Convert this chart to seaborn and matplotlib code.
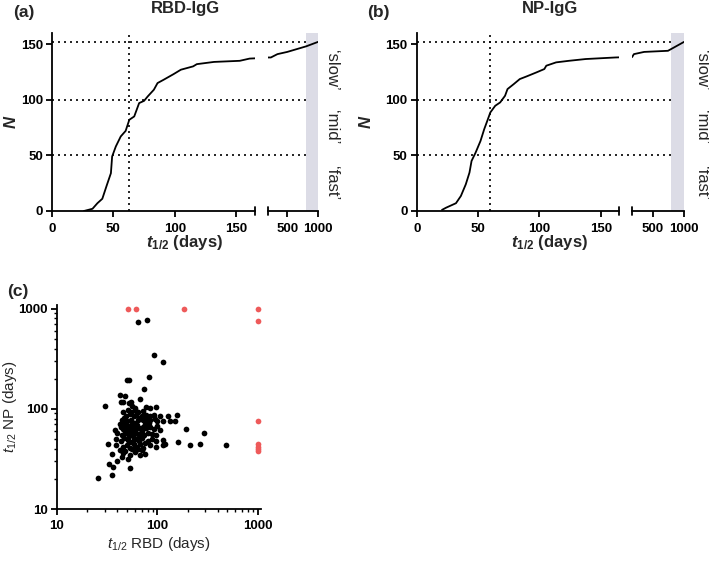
import matplotlib
matplotlib.use("Agg")
import matplotlib.pyplot as plt
import matplotlib.transforms as mtransforms
from matplotlib.ticker import LogLocator, NullFormatter
import pandas as pd
import seaborn as sns

# ---------------- data ----------------
rbd_t = [26, 33, 37, 41, 44.6, 48, 49, 52, 56, 60, 63, 67, 71, 75, 78, 83, 86,
         91, 99, 105, 115, 118, 132, 153, 161, 180, 230, 337, 498, 806, 1000]
rbd_n = [0, 2, 7, 11, 23, 34, 49, 58, 67, 72, 82, 85, 97, 99, 103, 109, 115,
         118, 123, 127, 130, 132, 134, 135, 137, 138, 138, 141, 143, 148, 152]

np_t = [20.6, 24, 32, 36, 40, 43, 44.7, 48, 52, 55, 57.5, 60, 64, 68, 72, 74, 79,
        84, 89.6, 97.6, 104, 105.6, 113.6, 124, 137.7, 161.8, 175, 202, 365, 745, 1000]
np_n = [1, 3, 7, 13.5, 24, 34.5, 45, 52.5, 63, 73.5, 81, 88.6, 94.6, 97.6, 103.6,
        109.6, 114, 118.6, 121, 124.6, 127.6, 130.6, 133.6, 135, 136.6, 138, 138.5,
        141, 143, 144, 152]

rbd_median = 63
np_median = 59.5
thresholds = [50, 100, 152]
band_labels = ["\u2018slow\u2019", "\u2018mid\u2019", "\u2018fast\u2019"]
band_centres = [126, 75, 25]

scatter_rbd = [63.5, 78.7, 91.7, 114, 49.8, 52.5, 82.8, 74, 42.4, 47.9, 67, 30, 43.4, 52.5,
               55.3, 76.9, 84, 98, 46, 55, 60, 55, 64, 72, 46, 51, 60,
               44, 49, 55, 62, 53, 58, 66, 70, 78, 85, 92, 84, 78, 72, 64, 106, 128, 157,
               133, 114, 149, 100, 95,
               42, 47, 52, 58, 63, 45, 50, 55, 60, 66, 72, 78, 85, 92, 100, 106, 195, 292,
               40, 44, 48, 53, 57, 62, 68, 74, 80, 88, 96, 52, 58, 65, 71, 38, 43, 49, 56,
               61, 75, 83,
               39, 43, 47, 51, 55, 60, 65, 70, 75, 84, 98, 114, 114, 98, 119, 161, 210, 269,
               488, 42.4, 39, 45, 50, 54, 58, 62, 67, 72, 32.4, 70, 60, 75, 67, 53, 48,
               35, 44, 51, 33, 36.4, 25.8, 35, 53, 40, 56, 46, 64, 80, 88, 57, 50, 47]
scatter_np = [741, 776, 344, 295, 195, 196, 207, 157, 137, 134, 125, 107, 116, 114,
              108, 104, 102, 105, 116, 117, 103, 94, 94, 96, 94, 98, 98,
              78, 84, 78, 87, 88, 85, 82, 84, 86, 85, 86, 78, 79, 77, 78, 84, 84, 86,
              76, 75, 76, 76, 80,
              70, 72, 67, 72, 69, 63, 62, 65, 62, 64, 66, 64, 66, 63, 68, 62, 63, 57,
              58, 55, 57, 59, 55, 57, 58, 55, 58, 56, 55, 53, 51, 52, 60, 61, 66, 68, 70,
              66, 70, 72,
              50, 48, 51, 49, 47, 50, 48, 51, 46, 44, 47.6, 49, 44, 42, 45, 47, 44, 45,
              44, 39, 43.6, 42, 44, 41, 45, 42, 45, 41, 44.7, 39, 37.5, 35.5, 35, 35, 38,
              35.5, 33, 31.4, 28, 26, 20.6, 21.9, 25.6, 30, 40, 36, 40, 48, 50, 61, 75, 81]
red_rbd = [51, 61.5, 184, 1000, 1000, 1000, 1000, 1000, 1000, 1000]
red_np = [1000, 1000, 1000, 1000, 753, 75, 45, 42, 40, 38]

# ---------------- style ----------------
sns.set_style("ticks")
plt.rcParams.update({
    "font.family": ["Liberation Sans", "DejaVu Sans"],
    "mathtext.fontset": "custom",
    "mathtext.rm": "Liberation Sans",
    "mathtext.it": "Liberation Sans:italic",
    "mathtext.bf": "Liberation Sans:bold",
    "mathtext.bfit": "Liberation Sans:bold:italic",
    "axes.linewidth": 1.3,
    "xtick.major.width": 1.3,
    "ytick.major.width": 1.3,
    "xtick.major.size": 4,
    "ytick.major.size": 4,
    "xtick.minor.width": 1.0,
    "ytick.minor.width": 1.0,
    "xtick.minor.size": 2.5,
    "ytick.minor.size": 2.5,
    "xtick.color": "black",
    "ytick.color": "black",
    "axes.edgecolor": "black",
})

W, H = 709, 578
fig = plt.figure(figsize=(W / 100, H / 100), dpi=100)


def ax_px(l, t, r, b):
    return fig.add_axes([l / W, 1 - b / H, (r - l) / W, (b - t) / H])


def ftext(x, y, s, **kw):
    fig.text(x / W, 1 - y / H, s, ha="center", va="center", **kw)


DOT = (0, (1.2, 2.4))


def curve_panel(l, r, t_vals, n_vals, median, text_x):
    seg1_r = l + 202.5
    seg2_l = seg1_r + 13
    a1 = ax_px(l, 33, seg1_r, 211)
    a2 = ax_px(seg2_l, 33, r, 211)
    df = pd.DataFrame({"t": t_vals, "N": n_vals})
    a2.axvspan(800, 1000, color="#dcdce6", lw=0, zorder=0)
    for ax in (a1, a2):
        sns.lineplot(data=df, x="t", y="N", ax=ax, color="black", lw=1.3,
                     estimator=None, sort=False, zorder=3)
        ax.set_ylim(0, 160)
        ax.set_xlabel("")
        ax.set_ylabel("")
        ax.patch.set_alpha(0)
    a1.set_xlim(0, 165)
    a2.set_xlim(175, 1000)
    span = (r - l) / (seg1_r - l)
    tr = mtransforms.blended_transform_factory(a1.transAxes, a1.transData)
    for y in thresholds:
        a1.plot([0, span], [y, y], transform=tr, color="black", lw=1.2, ls=DOT,
                clip_on=False, zorder=2)
    a1.axvline(median, color="black", lw=1.2, ls=DOT, zorder=2)
    a1.set_xticks([0, 50, 100, 150])
    a1.set_yticks([0, 50, 100, 150])
    a2.set_xticks([500, 1000])
    a2.set_yticks([])
    for ax in (a1, a2):
        ax.spines["top"].set_visible(False)
        ax.spines["right"].set_visible(False)
        for lab in ax.get_xticklabels() + ax.get_yticklabels():
            lab.set_fontweight("bold")
            lab.set_fontsize(9.5)
        ax.tick_params(axis="x", pad=4.5)
        ax.tick_params(axis="y", pad=2.5)
    a2.spines["left"].set_visible(False)
    # axis-break caps
    a1.plot([1, 1], [-0.02, 0.02], transform=a1.transAxes, color="black", lw=1.3,
            clip_on=False)
    a2.plot([0, 0], [-0.02, 0.02], transform=a2.transAxes, color="black", lw=1.3,
            clip_on=False)
    ttr = mtransforms.blended_transform_factory(fig.transFigure, a2.transData)
    for lab, yc in zip(band_labels, band_centres):
        a2.text(text_x / W, yc, lab, transform=ttr, rotation=270, ha="center",
                va="center", fontsize=12, clip_on=False)
    return a1, a2


curve_panel(52, 318, rbd_t, rbd_n, rbd_median, 331)
curve_panel(416.7, 684, np_t, np_n, np_median, 701)

xlab_bold = r"$\mathbfit{t}_{\mathbf{1/2}}$" + " (days)"
ftext(24, 13, "(a)", fontsize=12.5, fontweight="bold")
ftext(185, 8, "RBD-IgG", fontsize=12, fontweight="bold")
ftext(185, 243, xlab_bold, fontsize=12, fontweight="bold")
ftext(11, 122, "N", fontsize=12, fontweight="bold", fontstyle="italic", rotation=90)

ftext(378, 13, "(b)", fontsize=12.5, fontweight="bold")
ftext(550, 8, "NP-IgG", fontsize=12, fontweight="bold")
ftext(550, 243, xlab_bold, fontsize=12, fontweight="bold")
ftext(366, 122, "N", fontsize=12, fontweight="bold", fontstyle="italic", rotation=90)

# ---------------- panel (c) ----------------
ac = ax_px(57, 305, 261, 509)
sns.scatterplot(x=scatter_rbd, y=scatter_np, ax=ac, color="black", s=17,
                linewidth=0, zorder=3)
sns.scatterplot(x=red_rbd, y=red_np, ax=ac, color="#ee5a5a", s=17,
                linewidth=0, zorder=4)
ac.set_xscale("log")
ac.set_yscale("log")
ac.set_xlim(10, 1080)
ac.set_ylim(10, 1090)
ac.set_xticks([10, 100, 1000])
ac.set_xticklabels(["10", "100", "1000"])
ac.set_yticks([10, 100, 1000])
ac.set_yticklabels(["10", "100", "1000"])
ac.xaxis.set_minor_locator(LogLocator(base=10, subs=range(2, 10)))
ac.yaxis.set_minor_locator(LogLocator(base=10, subs=range(2, 10)))
ac.xaxis.set_minor_formatter(NullFormatter())
ac.yaxis.set_minor_formatter(NullFormatter())
ac.spines["top"].set_visible(False)
ac.spines["right"].set_visible(False)
for lab in ac.get_xticklabels() + ac.get_yticklabels():
    lab.set_fontweight("bold")
    lab.set_fontsize(9.5)
ac.tick_params(axis="x", which="both", pad=4)
ac.tick_params(axis="y", which="both", pad=2.5)
ac.set_xlabel("")
ac.set_ylabel("")

ftext(18, 291, "(c)", fontsize=12.5, fontweight="bold")
ftext(159, 544, r"$\mathit{t}_{\mathrm{1/2}}$" + " RBD (days)", fontsize=11)
ftext(10, 407, r"$\mathit{t}_{\mathrm{1/2}}$" + " NP (days)", fontsize=11, rotation=90)

fig.savefig("out.png", dpi=100)
